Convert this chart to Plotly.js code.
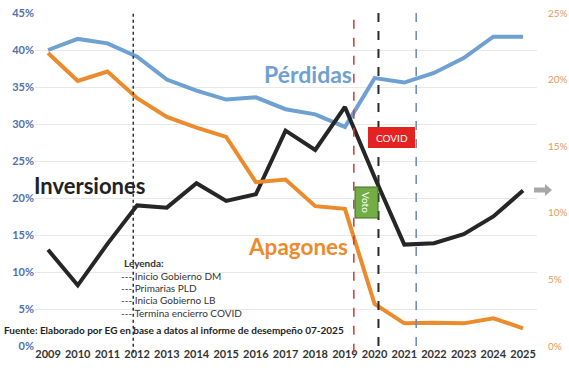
<!DOCTYPE html>
<html>
<head>
<meta charset="utf-8">
<script src="https://cdn.plot.ly/plotly-3.0.1.min.js"></script>
<style>html,body{margin:0;padding:0;background:#fff}#chart{width:569px;height:371px}</style>
</head>
<body>
<div id="chart"></div>
<script>
const years = [2009,2010,2011,2012,2013,2014,2015,2016,2017,2018,2019,2020,2021,2022,2023,2024,2025];
const perdidas = [40.0,41.5,40.9,39.1,36.0,34.5,33.3,33.6,32.0,31.3,29.6,36.2,35.6,36.9,38.9,41.8,41.8];
const inversiones = [13.0,8.2,13.8,19.0,18.7,22.0,19.6,20.5,29.1,26.5,32.3,22.8,13.7,13.9,15.1,17.5,21.0];
const apagones = [22.0,19.9,20.6,18.6,17.2,16.4,15.7,12.3,12.5,10.5,10.3,3.15,1.7,1.75,1.7,2.08,1.33];
const leftTicks = [0,5,10,15,20,25,30,35,40,45];
const rightTicks = [0,5,10,15,20,25];
const eventX = [2011.87, 2019.3, 2020.13, 2021.4];
const eventNames = ['Inicio Gobierno DM','Primarias PLD','Inicia Gobierno LB','Termina encierro COVID'];
const eventColors = ['#333333','#d33a2c','#2a2a2a','#6a86b8'];
const eventDash = ['dot','dash','dash','dash'];
const eventWidth = [1.5,1.5,2,1.5];

const F = 'Lato, "Open Sans", sans-serif';
const px = x => (x-35)/502, py = y => (346-y)/333;

const traces = [
  {x: years, y: perdidas, type:'scatter', mode:'lines', line:{color:'#6fa0d2', width:4}, yaxis:'y', name:'Pérdidas'},
  {x: years, y: apagones, type:'scatter', mode:'lines', line:{color:'#ec8b2c', width:4}, yaxis:'y2', name:'Apagones'},
  {x: years, y: inversiones, type:'scatter', mode:'lines', line:{color:'#262626', width:4}, yaxis:'y', name:'Inversiones'}
];

const shapes = eventX.map((v,i)=>({type:'line', xref:'x', yref:'paper', x0:v, x1:v, y0:(i<2?-0.02:0), y1:1, line:{color:eventColors[i], width:eventWidth[i], dash:eventDash[i]}}));
shapes.push({type:'rect', xref:'paper', yref:'paper', x0:px(368), x1:px(415), y0:py(148), y1:py(127), fillcolor:'#e52222', line:{width:0}});
shapes.push({type:'rect', xref:'paper', yref:'paper', x0:px(355), x1:px(378), y0:py(218), y1:py(187), fillcolor:'#72ad46', line:{color:'#3f6e25', width:1}});
shapes.push({type:'path', xref:'paper', yref:'paper',
  path:`M ${px(534)} ${py(187.5)} L ${px(545)} ${py(187.5)} L ${px(545)} ${py(184)} L ${px(552)} ${py(190)} L ${px(545)} ${py(196)} L ${px(545)} ${py(192.5)} L ${px(534)} ${py(192.5)} Z`,
  fillcolor:'#a8a8a8', line:{width:0}});

const A = (text, x, y, font, extra) => Object.assign({text, xref:'paper', yref:'paper', x:px(x), y:py(y), xanchor:'center', yanchor:'middle', showarrow:false, font}, extra||{});
const annotations = [
  A('Pérdidas', 308, 74, {family:F, size:23, color:'#6fa0d2', weight:'bold'}),
  A('Inversiones', 89, 186, {family:F, size:22, color:'#222222', weight:'bold'}),
  A('Apagones', 298, 247, {family:F, size:22.5, color:'#ec8b2c', weight:'bold'}),
  A('COVID', 391.5, 137.5, {family:F, size:10, color:'#ffffff'}),
  A('Voto', 366.5, 202.5, {family:F, size:10, color:'#ffffff'}, {textangle:90}),
  A('<b>Leyenda:</b>', 122, 263, {family:F, size:10, color:'#333333'}, {xanchor:'left'}),
  A('<b>Fuente: Elaborado por EG en base a datos al informe de desempeño 07-2025</b>', 2, 330, {family:F, size:10, color:'#222222'}, {xanchor:'left'})
];
eventNames.forEach((n,i)=>annotations.push(A('--- '+n, 119, 275.5+12.4*i, {family:F, size:10, color:'#333333'}, {xanchor:'left'})));

const layout = {
  width:569, height:371,
  margin:{l:35, r:32, t:13, b:25},
  paper_bgcolor:'#ffffff', plot_bgcolor:'#ffffff',
  showlegend:false,
  xaxis:{range:[2008.56,2025.47], tickvals:years, ticktext:years.map(String), tickangle:0, showgrid:false, zeroline:false, showline:false, ticks:'', tickfont:{family:F, size:11, color:'#333333', weight:'bold'}},
  yaxis:{range:[0,45], tickvals:leftTicks, ticktext:leftTicks.map(v=>v+'%'), showgrid:true, gridcolor:'#e8e8e8', gridwidth:1, zeroline:false, ticks:'', tickfont:{family:F, size:11, color:'#5070ad', weight:'bold'}},
  yaxis2:{range:[0,25], overlaying:'y', side:'right', tickvals:rightTicks, ticktext:rightTicks.map(v=>v+'%'), ticklabelstandoff:10, showgrid:false, zeroline:false, ticks:'', tickfont:{family:F, size:10, color:'#e49a5a'}},
  shapes: shapes,
  annotations: annotations
};

Plotly.newPlot('chart', traces, layout, {displayModeBar:false, staticPlot:true});
</script>
</body>
</html>
